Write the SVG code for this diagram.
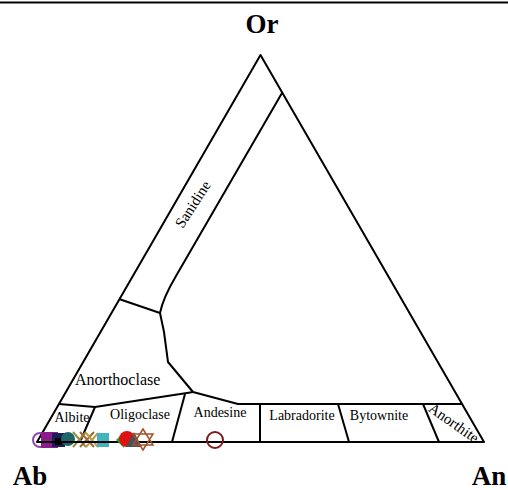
<svg xmlns="http://www.w3.org/2000/svg" width="508" height="490" viewBox="0 0 508 490">
<style>
.ln{fill:none;stroke:#000;stroke-width:2;stroke-linejoin:round}
.lb{font-family:"Liberation Serif",serif;font-size:14px;fill:#000}
.ax{font-family:"Liberation Serif",serif;font-size:27px;font-weight:bold;fill:#000}
</style>
<rect x="0" y="0" width="508" height="490" fill="#fff"/>
<line x1="0" y1="2.5" x2="508" y2="2.5" stroke="#000" stroke-width="2"/>
<g id="connectors">
<path class="ln" d="M260.5,55 L37,442 L484,442 Z"/>
<path class="ln" d="M282,93 L176,276 Q163,298 160,313"/>
<path class="ln" d="M119,299 L160,313"/>
<path class="ln" d="M160,313 L164,332 L168,362 L193,392"/>
<path class="ln" d="M59,404 L95,407 L187,393 L193,392"/>
<path class="ln" d="M193,392 L238,404 L462,404"/>
<path class="ln" d="M95,407 L80,442"/>
<path class="ln" d="M185,394 L172,442"/>
<path class="ln" d="M260,404 L260,442"/>
<path class="ln" d="M338,404 L349,442"/>
<path class="ln" d="M423,404 L439,442"/>
</g>
<g id="labels">
<text class="ax" x="262" y="33" text-anchor="middle">Or</text>
<text class="ax" x="30" y="485" text-anchor="middle">Ab</text>
<text class="ax" x="489" y="485" text-anchor="middle">An</text>
</g>
<g id="sanidine"><text class="lb" style="font-size:15px" x="0" y="0" text-anchor="middle" transform="translate(197,207) rotate(-57)">Sanidine</text></g>
<g id="anorthoclase"><text class="lb" style="font-size:16px" x="75" y="385">Anorthoclase</text></g>
<g id="albite"><text class="lb" x="72" y="422" text-anchor="middle">Albite</text></g>
<g id="oligoclase"><text class="lb" x="140" y="419" text-anchor="middle">Oligoclase</text></g>
<g id="andesine"><text class="lb" x="220" y="417" text-anchor="middle">Andesine</text></g>
<g id="labradorite"><text class="lb" x="302" y="420" text-anchor="middle">Labradorite</text></g>
<g id="bytownite"><text class="lb" x="379" y="420" text-anchor="middle">Bytownite</text></g>
<g id="anorthite"><text class="lb" style="font-size:15px" x="0" y="0" text-anchor="middle" transform="translate(451,427) rotate(35)">Anorthite</text></g>
<g id="points">
<circle cx="40" cy="440" r="7" fill="none" stroke="#8E4AA8" stroke-width="2"/>
<rect x="41" y="432" width="17" height="16" fill="#8B1C8B"/>
<rect x="52" y="433" width="13" height="14" fill="#1A1F5A"/>
<rect x="55" y="438" width="7" height="7" fill="#000"/>
<circle cx="68" cy="439" r="7" fill="#1E6468"/>
<path d="M73,432 L86,447 M73,447 L86,432" stroke="#9B8B3B" stroke-width="2"/>
<path d="M80,432 L94,447 M80,447 L94,432" stroke="#A0663B" stroke-width="2"/>
<path d="M86,433 L98,447 M86,447 L98,433" stroke="#B8A040" stroke-width="2"/>
<rect x="97" y="433" width="12" height="14" fill="#40B4BE"/>
<line x1="37" y1="442" x2="135" y2="442" stroke="#000" stroke-width="2"/>
<path d="M116,440 L124,432 L124,448 Z" fill="#22AA22"/>
<circle cx="127" cy="439" r="8" fill="#DD1111"/>
<path d="M126,447 L134,432 L142,447 Z" fill="#4A5058"/>
<path d="M133,445 L143,429 L153,445 Z M133,434 L153,434 L143,450 Z" fill="none" stroke="#A0522D" stroke-width="1.5"/>
<circle cx="215" cy="440" r="8" fill="none" stroke="#7B1E1E" stroke-width="2"/>
</g>
</svg>
